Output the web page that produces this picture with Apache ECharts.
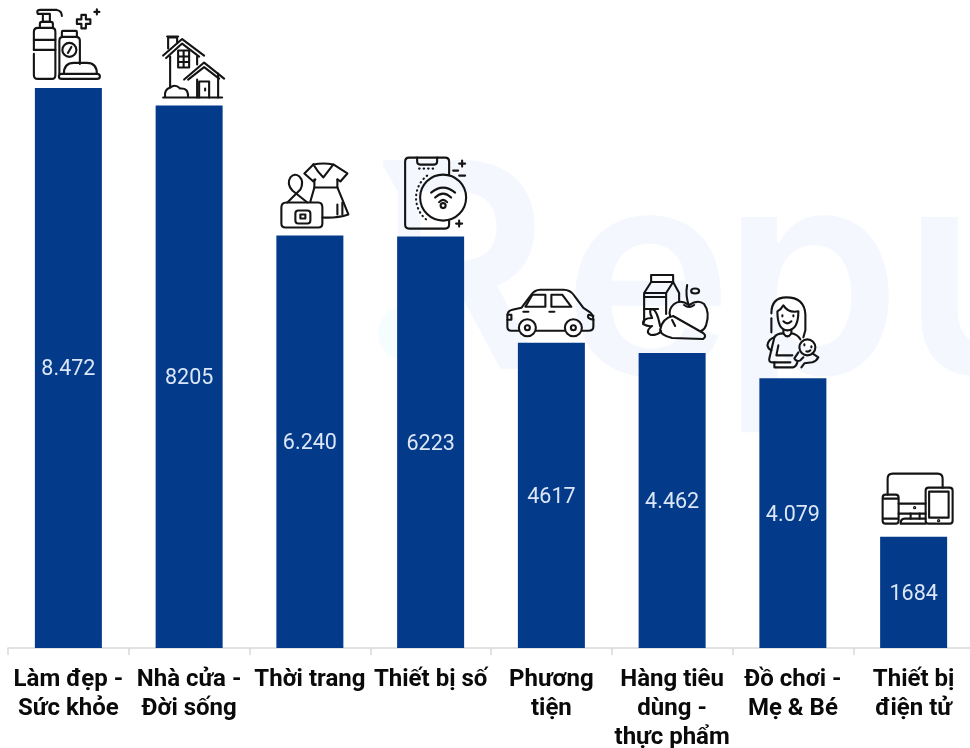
<!DOCTYPE html>
<html><head><meta charset="utf-8">
<style>html,body{margin:0;padding:0;background:#fff;overflow:hidden}#c{width:970px;height:748px}</style>
<script src="https://cdn.jsdelivr.net/npm/echarts@6/dist/echarts.min.js"></script>
</head><body><div id="c"></div>
<script>
const categories = ['Làm đẹp -\nSức khỏe','Nhà cửa -\nĐời sống','Thời trang','Thiết bị số','Phương\ntiện','Hàng tiêu\ndùng -\nthực phẩm','Đồ chơi -\nMẹ & Bé','Thiết bị\nđiện tử'];
const values = [8472,8205,6240,6223,4617,4462,4079,1684];
const valueLabels = ['8.472','8205','6.240','6223','4617','4.462','4.079','1684'];

const circle=(x,y,r)=>`M${x-r} ${y}a${r} ${r} 0 1 0 ${2*r} 0a${r} ${r} 0 1 0 ${-2*r} 0Z`;
const plus=(x,y,a)=>`M${x-a} ${y}H${x+a}M${x} ${y-a}V${y+a}`;

// line-art pictograms, each drawn around its own origin and hung above its bar
const iconBeauty = {origin:[68.5,88],paths:[
 'M38 14Q36 10 40 10H57Q62 11 62 16M38 14H50M43 14V22H50V14',
 'M40 28V24Q40 22 42 22H51Q53 22 53 24V28',
 'M34 50V32Q34 28 38 28H52Q55.5 28 55.5 32V75Q55.5 79 52 79H38Q34 79 34 75V54',
 'M34 40H55.5M34 50H55.5',
 'M59.5 74V41Q59.5 37 63 37H76Q80 37 80 41V64M62 37V32Q62 31 63 31H76Q77 31 77 32V37',
 circle(69.5,50,7),'M68 53L71.5 47',
 'M62 74H97Q100 74 100 76.5Q100 79 97 79H62Q59 79 59 76.5Q59 74 62 74Z',
 'M64 74Q64 63 74 63H87Q97 63 97 74',
 'M81.5 15H86V19.5H90.5V24H86V28.5H81.5V24H77V19.5H81.5Z',
 plus(97,12,2.5)]};
const iconHome = {origin:[189,106],paths:[
 'M163 56L182 39.5L204 56','M166 58.5L182 44L199 57',
 'M168 49V38H177V43','M167 37H178',
 'M170 57V88','M197 57V65',
 'M178 51H189V68H178ZM178 57H189M178 62.5H189M183.5 51V68',
 'M184 80L204 63L224 79','M188 80L204 67.5L219 79',
 'M218 74V98M197 80V98','M199 82H209V98M199 82V98M205 89V91',
 'M163 98H222',
 'M165 97Q164 90 170 88Q175 84 180 89Q188 88 188 97']};
const iconFashion = {origin:[309.5,236],paths:[
 'M287 203L300 190Q304 182 299 177Q294 173 290 178Q286 184 292 191L307 203',
 'M286 203H318Q322 203 322 208V224Q322 228 318 228H285Q281 228 281 224V208Q281 203 286 203Z',
 'M298 211H307Q310 211 310 214V221Q310 224 307 224H298Q295 224 295 221V214Q295 211 298 211Z',
 'M300 215H305V219H300Z',
 'M313 165Q323 163 333 165L323 178Q317 172 313 165M333 165L347 174L340 182L337 180',
 'M313 165L304 174L313 182L315 180',
 'M314 180V188H337V180','M314 188L310 202M337 188Q342 200 348 215Q336 219 322 218',
 'M337 205V215M342 203V215']};
const iconDigital = {origin:[430.5,237],paths:[
 'M449 175V162Q449 158 445 158H409Q405 158 405 162V225Q405 229 409 229H445Q449 229 449 225V221',
 'M417 158V162Q417 165 420 165H434Q437 165 437 162V158',
 {d:'M419 169H435',dash:[0.5,4]},
 {d:'M427 176A28 28 0 0 0 429 222',dash:[0.5,4]},
 circle(443,198,23),
 'M431 193Q443 183 455 193','M435 198Q443 190 451 198','M439 202.5Q443 198 447 202.5',
 circle(443,206,2.5),
 plus(462,164,3),'M453 171H458M459 176H465',plus(459,224,3)]};
const iconCar = {origin:[551,343],paths:[
 'M518 331H511Q507 331 507 327V316Q507 311 512 310L521 308L530 296Q534 290 540 290H563Q570 290 574 296L583 308L589 312Q593 315 593 320V327Q593 331 588 331H582',
 'M536 331H564',circle(527,328,8.5),circle(573,328,8.5),circle(527,328,2.5),circle(573,328,2.5),
 'M525 307L532 295H545V307ZM551 307V295H562L571 307Z',
 'M523 312H528M549 312H554',
 'M507 315H511V320H507M593 316L588 315Q586 319 593 320']};
const iconGrocery = {origin:[672,353],paths:[
 'M651 282V275H673V282M651 282H673M651 282L644 293V322M673 282L679 293V302M644 293H666L673 282',
 'M666 293V314M644 297H666M644 309H658',
 'M687 285Q685 296 689 306M691 291a4 2.5 0 1 0 8 0a4 2.5 0 1 0 -8 0Z',
 'M684 305Q689 309 694 305',
 'M689 305Q680 299 674 304Q668 309 670 316M689 305Q698 299 704 304Q710 312 706 325Q705 329 701 331',
 'M660 330Q662 318 673 316L703 333Q707 336 703 339L672 338Q660 335 660 330Z',
 'M660 326Q657 310 652 309Q648 310 652 318Q642 318 643 324Q648 327 652 326Q644 332 651 335Q658 335 661 331',
 'M672 320L675 326']};
const iconMother = {origin:[792.5,378],paths:[
 'M771 313Q771 297 786 297Q804 297 805 314V330L803 337','M771 318V332',
 'M777 311Q777 330 787 330Q798 330 798 311Q788 313 783 305Q781 309 777 311Z',
 'M783 321Q787 325 791 321M782 315V316M793 315V316',
 'M783 330V333Q787 339 791 333V330',
 'M783 333Q776 333 774 337L769 358Q768 362 772 362H790',
 'M774 337Q768 339 767 345Q768 349 771 350',
 'M791 333Q797 334 800 339',
 'M778 345L776 355H792',
 'M774 362V367H793Q796 366 797 362',
 circle(807,347,8),'M804 344V345M811 346V347M806 351Q808 352 810 350',
 'M798 352L794 358Q796 362 800 360L803 357M812 353L818 357Q816 361 812 362L804 363L801 367']};
const iconDevices = {origin:[913,537],paths:[
 'M887 495V479Q887 474 892 474H937Q942 474 942 479V488',
 'M885 495H895Q898 495 898 498V521Q898 524 895 524H885Q882 524 882 521V498Q882 495 885 495ZM882 499H898M882 519H898',
 'M928 488H949Q952 488 952 491V521Q952 524 949 524H928Q925 524 925 521V491Q925 488 928 488Z',
 'M928.5 492H948V518H928.5Z',circle(938,521,0.6),circle(914,508,0.6),
 'M898 504H925M898 514H925','M910 514V519M919 514V519',
 'M925 519H904Q900 519 900 524H925']};
const icons = [iconBeauty,iconHome,iconFashion,iconDigital,iconCar,iconGrocery,iconMother,iconDevices];

const chart = echarts.init(document.getElementById('c'),null,{renderer:'canvas'});
const wm = (t,x,y)=>({type:'text',z:-5,silent:true,x,y,style:{text:t,fill:'#f4f7fe',font:'600 287px Inter'}});
chart.setOption({
 animation:false,
 graphic:[
  wm('R',362,139),wm('e',563,144),wm('p',722,144),wm('u',902,144),
  {type:'polygon',z:-4,silent:true,shape:{points:[[370,150],[378,157],[398,192],[398,380],[370,380]]},style:{fill:'#fff'}},
  {type:'circle',z:-3,silent:true,shape:{cx:405,cy:333,r:27},style:{fill:'#f5fdff'}}
 ],
 grid:{left:8,top:53,width:966,height:595,outerBoundsMode:'none'},
 xAxis:{type:'category',data:categories,
  axisLine:{lineStyle:{color:'#d9d9d9',width:1.5}},
  axisTick:{show:true,alignWithLabel:false,length:7,lineStyle:{color:'#d9d9d9',width:1.5}},
  axisLabel:{interval:0,color:'#0a0a0a',fontFamily:'Roboto',fontWeight:'bold',fontSize:24,lineHeight:29,margin:17}},
 yAxis:{type:'value',min:0,max:9000,show:false,splitLine:{show:false}},
 series:[
  {type:'bar',data:values,barWidth:67,itemStyle:{color:'#033a8a'},
   label:{show:true,position:'inside',offset:[0,2],color:'#dbe6f6',fontFamily:'Roboto',fontSize:21.5,
    formatter:p=>valueLabels[p.dataIndex]}},
  {type:'custom',data:values.map((v,i)=>[i,v]),clip:false,silent:true,z:5,
   renderItem:(params,api)=>{
    const ic=icons[params.dataIndex];
    const p=api.coord([api.value(0),api.value(1)]);
    return {type:'group',x:p[0]-ic.origin[0],y:p[1]-ic.origin[1],
     children:ic.paths.map(o=>{
      const d=typeof o==='string'?o:o.d;
      return {type:'path',shape:{pathData:d},
       style:{fill:'none',stroke:'#141414',lineWidth:2.1,lineCap:'round',lineJoin:'round',lineDash:o.dash||null}};
     })};
   }}
 ]
});
</script></body></html>
